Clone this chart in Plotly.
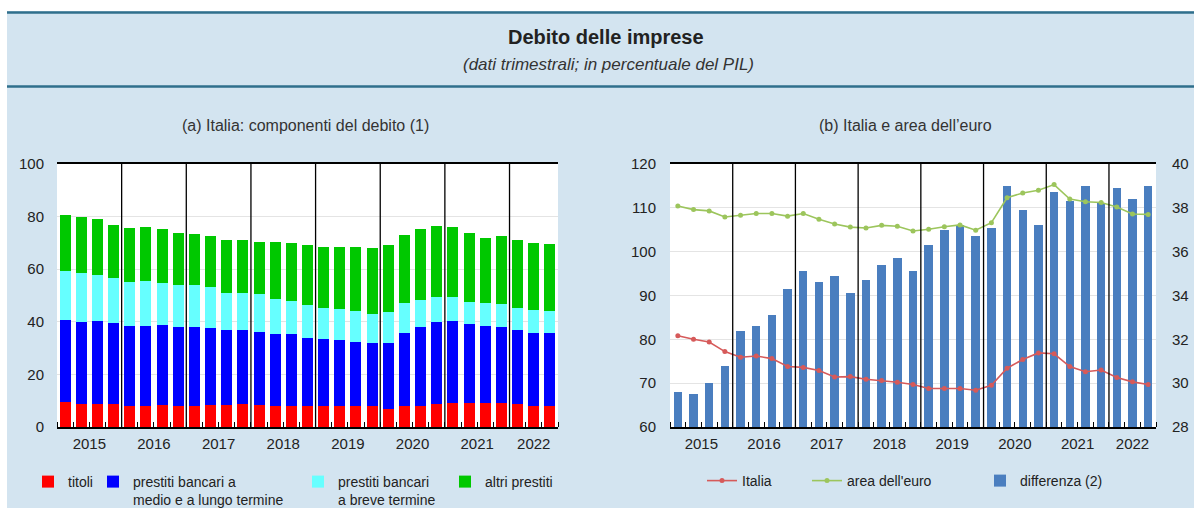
import plotly.graph_objects as go

W, H = 1194, 508

years = ["2015", "2016", "2017", "2018", "2019", "2020", "2021", "2022"]
quarters_per_year = [4, 4, 4, 4, 4, 4, 4, 3]
quarters = [f"{y} T{q+1}" for y, n in zip(years, quarters_per_year) for q in range(n)]

# (a) Italia: componenti del debito (% del PIL)
titoli = [9.5, 8.8, 8.8, 8.8, 7.9, 8.1, 8.3, 7.9, 8.1, 8.3, 8.3, 8.9, 8.4, 8.1, 8.1, 7.9,
          7.8, 8.0, 7.9, 7.8, 7.0, 7.8, 8.1, 8.8, 9.1, 9.1, 9.1, 9.3, 8.6, 7.9, 7.8]
prestiti_ml = [31.2, 31.2, 31.4, 30.8, 30.6, 30.4, 30.6, 30.2, 30.0, 29.2, 28.4, 27.9, 27.8, 27.2,
               27.1, 25.8, 25.7, 25.0, 24.5, 24.0, 24.9, 27.9, 30.0, 31.0, 31.3, 30.0, 29.4, 28.9,
               28.4, 27.8, 27.9]
prestiti_breve = [18.6, 18.4, 17.6, 17.2, 16.8, 17.0, 16.0, 15.8, 15.8, 15.7, 14.4, 14.3, 14.4, 13.2,
                  12.7, 12.7, 11.6, 12.0, 11.6, 11.1, 11.8, 11.3, 10.3, 9.5, 9.2, 8.5, 8.5, 8.7,
                  8.4, 8.6, 8.3]
altri_prestiti = [21.3, 21.4, 21.2, 19.9, 20.3, 20.4, 20.4, 19.7, 19.4, 19.4, 20.1, 20.1, 19.9, 21.8,
                  21.9, 22.8, 23.3, 23.4, 24.5, 25.0, 25.4, 25.9, 26.7, 27.2, 26.5, 26.0, 25.0, 25.7,
                  25.6, 25.6, 25.4]

# (b) Italia e area dell'euro
italia = [80.8, 80.0, 79.4, 77.2, 75.9, 76.2, 75.6, 73.8, 73.6, 72.9, 71.4, 71.5, 70.9, 70.6, 70.2,
          69.7, 68.8, 68.8, 68.8, 68.4, 69.5, 73.4, 75.4, 76.9, 76.7, 73.8, 72.6, 73.0, 71.3, 70.3, 69.7]
area_euro = [110.4, 109.6, 109.3, 107.9, 108.3, 108.7, 108.7, 108.1, 108.7, 107.4, 106.3, 105.6, 105.4,
             106.0, 105.8, 104.7, 105.1, 105.7, 106.1, 104.9, 106.6, 112.3, 113.4, 114.0, 115.3, 112.0,
             111.4, 111.2, 110.2, 108.6, 108.5]
differenza = [29.6, 29.5, 30.0, 30.8, 32.4, 32.6, 33.1, 34.3, 35.1, 34.6, 34.9, 34.1, 34.7, 35.4, 35.7,
              35.1, 36.3, 37.0, 37.2, 36.7, 37.1, 39.0, 37.9, 37.2, 38.7, 38.3, 39.0, 38.2, 38.9, 38.4, 39.0]

# ---------------------------------------------------------------
xpos = list(range(len(quarters)))
starts = []
s = 0
for n in quarters_per_year:
    starts.append(s)
    s += n
year_centers = [st + (n - 1) / 2 for st, n in zip(starts, quarters_per_year)]
year_bounds = [st - 0.5 for st in starts[1:]]
xr = [-0.5, len(quarters) - 0.5]

FONT = "Liberation Sans, Arial, sans-serif"
TXT = "#222222"
BG = "#d3e4f0"

def px_x(p):
    return p / W

def px_y(p):
    return 1 - p / H

dom_a = [px_x(57), px_x(558)]
dom_b = [px_x(670), px_x(1156)]
dom_y = [px_y(427), px_y(164)]

fig = go.Figure()

# legends positions (pixel based, top-left of each legend box)
leg_specs = {
    "legend": (28, 466), "legend2": (93, 466), "legend3": (298, 466), "legend4": (445, 466),
    "legend5": (702, 465), "legend6": (807, 465), "legend7": (980, 465),
}

bar_series = [
    ("titoli", titoli, "#ff0000", "legend"),
    ("prestiti bancari a<br>medio e a lungo termine", prestiti_ml, "#0000ff", "legend2"),
    ("prestiti bancari<br>a breve termine", prestiti_breve, "#66ffff", "legend3"),
    ("altri prestiti", altri_prestiti, "#00c800", "legend4"),
]
for name, vals, col, lg in bar_series:
    fig.add_trace(go.Bar(x=xpos, y=vals, name=name, marker=dict(color=col, line=dict(width=0)),
                         width=0.68, xaxis="x", yaxis="y", legend=lg,
                         customdata=quarters, hovertemplate="%{customdata}: %{y}<extra></extra>"))

fig.add_trace(go.Bar(x=xpos, y=differenza, name="differenza (2)", width=0.54,
                     marker=dict(color="#4a7ebf", line=dict(width=0)),
                     xaxis="x2", yaxis="y3", legend="legend7",
                     customdata=quarters, hovertemplate="%{customdata}: %{y}<extra></extra>"))
fig.add_trace(go.Scatter(x=xpos, y=italia, name="Italia", mode="lines+markers",
                         line=dict(color="#d65a5a", width=1.6), marker=dict(size=5, color="#d65a5a"),
                         xaxis="x2", yaxis="y4", legend="legend5",
                         customdata=quarters, hovertemplate="%{customdata}: %{y}<extra></extra>"))
fig.add_trace(go.Scatter(x=xpos, y=area_euro, name="area dell'euro", mode="lines+markers",
                         line=dict(color="#9cc55c", width=1.6), marker=dict(size=5, color="#9cc55c"),
                         xaxis="x2", yaxis="y4", legend="legend6",
                         customdata=quarters, hovertemplate="%{customdata}: %{y}<extra></extra>"))

xcommon = dict(range=xr, tickmode="array", tickvals=year_centers, ticktext=years, ticks="",
               showgrid=False, zeroline=False, showline=True, mirror=True, linecolor="black",
               linewidth=1.5, tickfont=dict(size=15, color=TXT), ticklabelstandoff=2,
               minor=dict(tick0=0.5, dtick=1, ticks="inside", ticklen=5, tickcolor="black", tickwidth=1,
                          showgrid=False))
ycommon = dict(showline=False, zeroline=False, ticks="", tickfont=dict(size=15, color=TXT))

layout = dict(
    width=W, height=H, autosize=False, margin=dict(l=0, r=0, t=0, b=0, autoexpand=False),
    showlegend=True,
    paper_bgcolor=BG, plot_bgcolor="white", barmode="stack", bargap=0,
    font=dict(family=FONT, color=TXT), hovermode="closest",
    xaxis=dict(domain=dom_a, anchor="y", **xcommon),
    yaxis=dict(domain=dom_y, anchor="x", range=[0, 100], dtick=20, showgrid=True, gridcolor="#e4e4e4",
               ticklabelstandoff=12, **ycommon),
    yaxis2=dict(overlaying="y", side="right", anchor="x", range=[0, 100], dtick=20, showgrid=False,
                ticklabelstandoff=8, **ycommon),
    xaxis2=dict(domain=dom_b, anchor="y3", **xcommon),
    yaxis3=dict(domain=dom_y, anchor="x2", side="right", range=[28, 40], dtick=2, showgrid=True,
                gridcolor="#e4e4e4", ticklabelstandoff=15, **ycommon),
    yaxis4=dict(overlaying="y3", side="left", anchor="x2", range=[60, 120], dtick=10, showgrid=False,
                ticklabelstandoff=13, **ycommon),
)
for lg, (lx, ly) in leg_specs.items():
    layout[lg] = dict(x=px_x(lx), y=px_y(ly), xanchor="left", yanchor="top", orientation="h",
                      bgcolor="rgba(0,0,0,0)", font=dict(size=14, color=TXT), valign="top",
                      itemclick=False, itemdoubleclick=False, visible=True)
fig.update_layout(**layout)

shapes = []
# white strips and header rules
shapes.append(dict(type="rect", xref="paper", yref="paper", x0=0, x1=1, y0=px_y(11), y1=1,
                   fillcolor="white", line=dict(width=0), layer="below"))
shapes.append(dict(type="rect", xref="paper", yref="paper", x0=0, x1=px_x(7), y0=0, y1=1,
                   fillcolor="white", line=dict(width=0), layer="below"))
for yy in (12.5, 86.5):
    shapes.append(dict(type="line", xref="paper", yref="paper", x0=px_x(7), x1=1, y0=px_y(yy), y1=px_y(yy),
                       line=dict(color="#2f6f8c", width=2.5)))
# year separators
for xa, ya in (("x", "y"), ("x2", "y3")):
    for b in year_bounds:
        shapes.append(dict(type="line", xref=xa, yref=f"{ya} domain",
                           x0=b, x1=b, y0=0, y1=1, line=dict(color="black", width=1.3)))
fig.update_layout(shapes=shapes)

ann = [
    dict(text="<b>Debito delle imprese</b>", x=px_x(606), y=px_y(37), font=dict(size=20, color=TXT)),
    dict(text="<i>(dati trimestrali; in percentuale del PIL)</i>", x=px_x(608), y=px_y(64),
         font=dict(size=17, color="#333333")),
    dict(text="(a) Italia: componenti del debito (1)", x=px_x(305), y=px_y(125), font=dict(size=16, color="#333333")),
    dict(text="(b) Italia e area dell\u2019euro", x=px_x(905), y=px_y(125), font=dict(size=16, color="#333333")),
]
for a in ann:
    a.update(xref="paper", yref="paper", showarrow=False, xanchor="center", yanchor="middle")
fig.update_layout(annotations=ann)

post = (
    "document.documentElement.style.margin='0';"
    "document.documentElement.style.overflow='hidden';"
    "document.body.style.margin='0';"
    "document.body.style.padding='0';"
    "document.body.style.overflow='hidden';"
    "var gd=document.getElementsByClassName('plotly-graph-div')[0];"
    "gd.style.position='fixed';gd.style.top='0px';gd.style.left='0px';"
)
fig.write_html("out.html", config={"displayModeBar": False, "responsive": False},
               post_script=post)
